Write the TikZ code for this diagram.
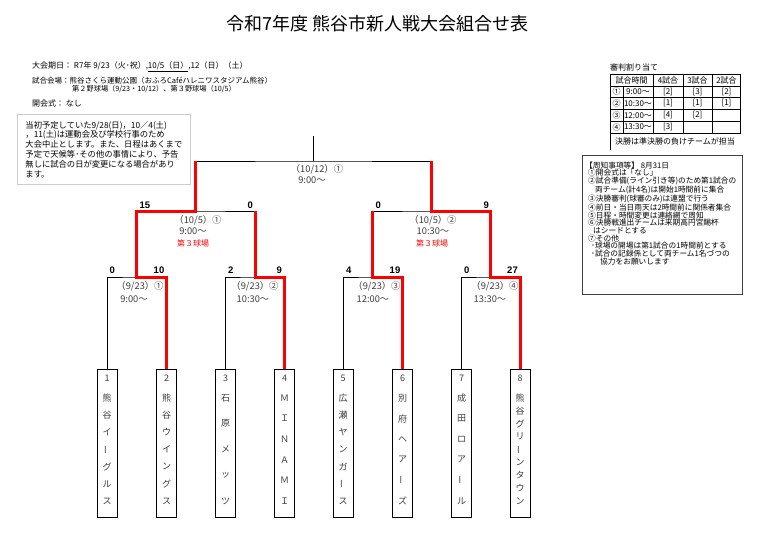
\documentclass[tikz,border=0pt]{standalone}
\usepackage{fontspec}
\usepackage{graphicx}
\setmainfont{Noto Sans CJK JP}
\newfontfamily\scorefont{Liberation Sans}
\definecolor{txtgray}{HTML}{3C3C3C}
\definecolor{brred}{HTML}{FF0000}
\newcommand\vbar{\rotatebox[origin=c]{90}{ー}}
\newcommand\fsz[1]{\fontsize{#1}{#1}\selectfont}
\newcommand\teamcol[4]{%
  \node[tchar] (#1n) at ([yshift=-9pt]#1.north) {#2};
  \foreach \c [count=\i] in {#4} {%
    \pgfmathsetmacro\dy{29+(\i-1)*103/(#3-1)}%
    \node[tchar] (#1c\i) at ([yshift=-\dy pt]#1.north) {\c};
  }%
}
\begin{document}
\begin{tikzpicture}[x=1pt,y=-1pt,
  thinline/.style={draw=black, line width=0.9pt},
  redline/.style={draw=brred, line width=3pt, line join=miter},
  teambox/.style={draw=black, line width=0.9pt, minimum width=20pt, minimum height=148pt, inner sep=0pt, anchor=north},
  lbl/.style={text=txtgray, font=\fsz{9.3}, inner sep=0pt},
  venue/.style={text=brred, font=\fsz{8}, inner sep=0pt},
  score/.style={font=\scorefont\bfseries\fsz{9.5}, inner sep=0pt},
  tchar/.style={text=txtgray, font=\fsz{9}, inner sep=0pt},
  hdr/.style={font=\fsz{8}, inner sep=0pt, anchor=west},
  tcell/.style={font=\fsz{8}, inner sep=0pt},
  tline/.style={draw=black, line width=0.7pt}
]
\useasboundingbox (0,0) rectangle (774,543);

% title and header
\node[font=\fsz{18}, inner sep=0pt] (title) at (377.5,24) {令和7年度 熊谷市新人戦大会組合せ表};
\node[hdr] (h1) at (32,67) {大会期日： R7年 9/23（火･祝）,\underline{10/5（日）},12（日）（土）};
\node[hdr, font=\fsz{7.5}] (h2) at (32,80.5) {試合会場：熊谷さくら運動公園（おふろCaféハレニワスタジアム熊谷）};
\node[hdr, font=\fsz{7.2}] (h3) at (72,89.5) {第２野球場（9/23・10/12）、第３野球場（10/5）};
\node[hdr] (h4) at (32,103) {開会式： なし};

% left note
\node[draw=gray!40, line width=0.8pt, anchor=north west, minimum width=173pt, minimum height=70pt,
      inner xsep=5.5pt, inner ysep=3pt, align=left, font=\fontsize{8.3}{9.8}\selectfont] (note) at (17,114)
 {当初予定していた9/28(日)，10／4(土)\\
  ，11(土)は運動会及び学校行事のため\\
  大会中止とします。また、日程はあくまで\\
  予定で天候等･その他の事情により、予告\\
  無しに試合の日が変更になる場合があり\\
  ます。};

% referee table
\node[tcell, anchor=west] (reftitle) at (610,67.5) {審判割り当て};
\draw[tline] (610,74) rectangle (740,133.5);
\foreach \yy in {86,97.7,109.3,121} \draw[tline] (610,\yy) -- (740,\yy);
\draw[tline] (623,86) -- (623,133.5);
\foreach \xx in {653,683,712} \draw[tline] (\xx,74) -- (\xx,133.5);
\draw[tline] (610,133.5) -- (610,150);
\node[tcell] (th0) at (631.5,80) {試合時間};
\node[tcell] (th1) at (668,80) {4試合};
\node[tcell] (th2) at (697.5,80) {3試合};
\node[tcell] (th3) at (726.5,80) {2試合};
\foreach \n/\t/\a/\b/\c [count=\r] in {①/9:00～/[2]/[3]/[2], ②/10:30～/[1]/[1]/[1], ③/12:00～/[4]/[2]/, ④/13:30～/[3]//} {
  \pgfmathsetmacro\ry{80+\r*11.75}
  \node[tcell] (tr\r a) at (616.5,\ry) {\n};
  \node[tcell] (tr\r b) at (638,\ry) {\t};
  \node[tcell] (tr\r c) at (668,\ry) {\a};
  \node[tcell] (tr\r d) at (697.5,\ry) {\b};
  \node[tcell] (tr\r e) at (726.5,\ry) {\c};
}
\node[tcell] (tlast) at (675,141.5) {決勝は準決勝の負けチームが担当};

% notes box
\node[draw=black!75, line width=0.9pt, anchor=north west, minimum width=160pt, minimum height=139pt, inner sep=0pt] (nbox) at (582,155) {};
\node[anchor=north west, align=left, inner sep=0pt, font=\fontsize{7.7}{7.7}\selectfont] (ntext) at ([xshift=3pt,yshift=-6.3pt]nbox.north west)
 {【周知事項等】 8月31日\\
  \hspace*{3pt}①開会式は「なし」\\
  \hspace*{3pt}②試合準備(ライン引き等)のため第1試合の\\
  \hspace*{10pt}両チーム(計4名)は開始1時間前に集合\\
  \hspace*{3pt}③決勝審判(球審のみ)は連盟で行う\\
  \hspace*{3pt}④前日・当日雨天は2時間前に関係者集合\\
  \hspace*{3pt}⑤日程・時間変更は連絡網で周知\\
  \hspace*{3pt}⑥決勝戦進出チームは来期高円宮賜杯\\
  \hspace*{8pt}はシードとする\\
  \hspace*{3pt}⑦その他\\
  \hspace*{6pt}･球場の開場は第1試合の1時間前とする\\
  \hspace*{6pt}･試合の記録係として両チーム1名づつの\\
  \hspace*{15pt}協力をお願いします};

% team boxes
\node[teambox] (t1) at (107,369) {};
\node[teambox] (t2) at (166.5,369) {};
\node[teambox] (t3) at (225.5,369) {};
\node[teambox] (t4) at (284.5,369) {};
\node[teambox] (t5) at (343,369) {};
\node[teambox] (t6) at (402.5,369) {};
\node[teambox] (t7) at (461.5,369) {};
\node[teambox] (t8) at (520,369) {};
\teamcol{t1}{1}{7}{熊,谷,イ,\vbar,グ,ル,ス}
\teamcol{t2}{2}{7}{熊,谷,ウ,イ,ン,グ,ス}
\teamcol{t3}{3}{5}{石,原,メ,ッ,ツ}
\teamcol{t4}{4}{6}{Ｍ,Ｉ,Ｎ,Ａ,Ｍ,Ｉ}
\teamcol{t5}{5}{7}{広,瀬,ヤ,ン,ガ,\vbar,ス}
\teamcol{t6}{6}{6}{別,府,ヘ,ア,\vbar,ズ}
\teamcol{t7}{7}{6}{成,田,ロ,ア,\vbar,ル}
\teamcol{t8}{8}{9}{熊,谷,グ,リ,\vbar,ン,タ,ウ,ン}

% bracket junctions
\coordinate (m1) at (136.75,277);
\coordinate (m2) at (255,277);
\coordinate (m3) at (372.75,277);
\coordinate (m4) at (490.75,277);
\coordinate (s1) at (195.9,211);
\coordinate (s2) at (431.75,211);
\coordinate (f) at (313.8,161);
\coordinate (ftop) at (313.8,136);

% black bracket
\draw[thinline] (t1.north) |- (m1) -| (t2.north);
\draw[thinline] (t3.north) |- (m2) -| (t4.north);
\draw[thinline] (t5.north) |- (m3) -| (t6.north);
\draw[thinline] (t7.north) |- (m4) -| (t8.north);
\draw[thinline] (m1) |- (s1) -| (m2);
\draw[thinline] (m3) |- (s2) -| (m4);
\draw[thinline] (s1) |- (f) -| (s2);
\draw[thinline] (f) -- (ftop);

% winners
\draw[redline] (t2.north) |- (m1) |- (s1) -- (s1 |- f);
\draw[redline] (t4.north) |- (m2) -- (m2 |- s1);
\draw[redline] (t6.north) |- (m3) -- (m3 |- s2);
\draw[redline] (t8.north) |- (m4) |- (s2) -- (s2 |- f);

% scores
\node[score, anchor=west] (sc1) at (139.5,205) {15};
\node[score, anchor=east] (sc2) at (253,205) {0};
\node[score, anchor=west] (sc3) at (375.5,205) {0};
\node[score, anchor=east] (sc4) at (489,205) {9};
\node[score, anchor=west] (sc5) at (109.5,270) {0};
\node[score, anchor=east] (sc6) at (164.5,270) {10};
\node[score, anchor=west] (sc7) at (228,270) {2};
\node[score, anchor=east] (sc8) at (282,270) {9};
\node[score, anchor=west] (sc9) at (346,270) {4};
\node[score, anchor=east] (sc10) at (400.5,270) {19};
\node[score, anchor=west] (sc11) at (464,270) {0};
\node[score, anchor=east] (sc12) at (518,270) {27};

% match labels
\node[lbl] (fl1) at (317,169) {（10/12）①};
\node[lbl] (fl2) at (312,180.5) {9:00～};
\node[lbl] (a1) at (198,220) {（10/5）①};
\node[lbl] (a2) at (193,231.5) {9:00～};
\node[venue] (a3) at (193,243) {第３球場};
\node[lbl] (b1) at (433,220) {（10/5）②};
\node[lbl] (b2) at (433,231.5) {10:30～};
\node[venue] (b3) at (432,243) {第３球場};
\node[lbl] (r1a) at (140,286) {（9/23）①};
\node[lbl] (r1b) at (134,299) {9:00～};
\node[lbl] (r2a) at (255,286) {（9/23）②};
\node[lbl] (r2b) at (253,299) {10:30～};
\node[lbl] (r3a) at (377,286) {（9/23）③};
\node[lbl] (r3b) at (373,299) {12:00～};
\node[lbl] (r4a) at (495,286) {（9/23）④};
\node[lbl] (r4b) at (490,299) {13:30～};
\end{tikzpicture}
\end{document}
